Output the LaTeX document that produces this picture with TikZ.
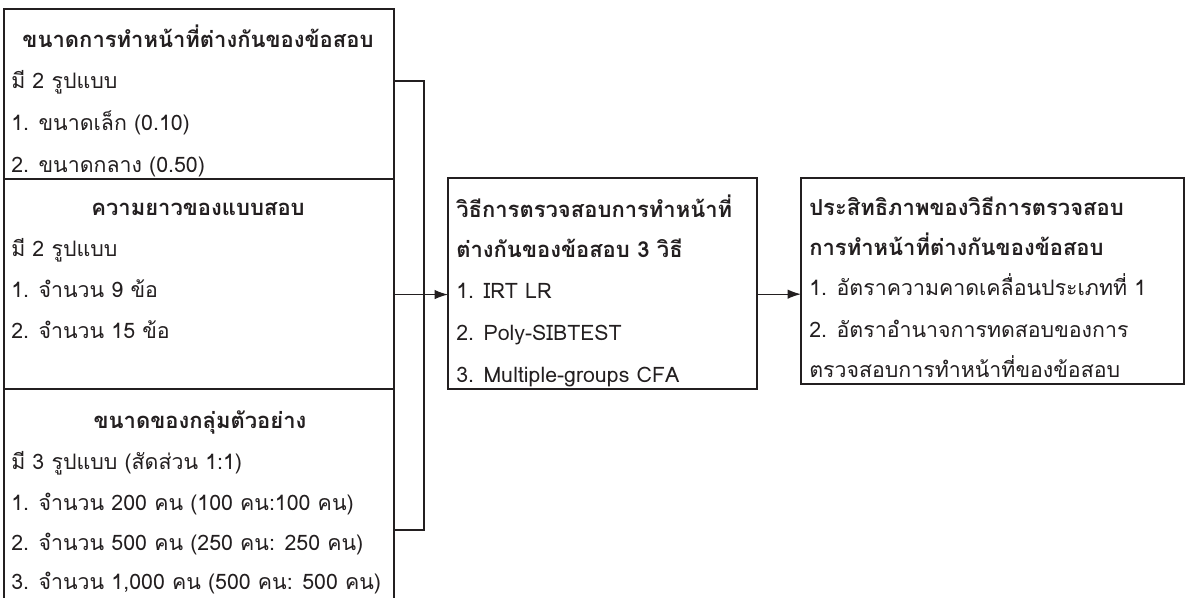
\documentclass[tikz,border=0pt]{standalone}
\usepackage{fontspec}
\setmainfont[Script=Thai]{Loma}
\usetikzlibrary{arrows.meta}
\definecolor{ink}{HTML}{231F20}
\begin{document}
\begin{tikzpicture}[x=0.75pt,y=-0.75pt,
  box/.style={draw=ink, line width=0.85pt, inner sep=0, outer sep=0, anchor=north west},
  txt/.style={anchor=base west, inner sep=0, text=ink, font=\fontsize{16}{19}\selectfont},
  ttl/.style={anchor=base, inner sep=0, text=ink, font=\fontsize{16.5}{19}\selectfont\bfseries},
  ttlw/.style={txt, font=\fontsize{16.5}{19}\selectfont\bfseries},
  link/.style={draw=ink, line width=0.85pt},
  arr/.style={link, -{Latex[length=10pt,width=7pt]}}]
\clip (0,0) rectangle (1186,597);
\fill[white] (0,0) rectangle (1186,597);
% left column
\node[box, minimum width=292.5pt, minimum height=127.5pt] (b1) at (4,9) {};
\node[box, minimum width=292.5pt, minimum height=157.5pt] (b2) at (4,179) {};
\node[box, minimum width=292.5pt, minimum height=160pt] (b3) at (4,389) {};
% middle and right
\node[box, minimum width=231.75pt, minimum height=158.25pt] (mid) at (448,178) {};
\node[box, minimum width=287.25pt, minimum height=154.5pt] (res) at (801,178) {};
% box 1 text
\node[ttl] (t1) at (198,47) {ขนาดการทำหน้าที่ต่างกันของข้อสอบ};
\node[txt] (t1a) at (11,88) {มี 2 รูปแบบ};
\node[txt] (t1b) at (11,130) {1. ขนาดเล็ก (0.10)};
\node[txt] (t1c) at (11,172) {2. ขนาดกลาง (0.50)};
% box 2 text
\node[ttl] (t2) at (198,215) {ความยาวของแบบสอบ};
\node[txt] (t2a) at (11,256) {มี 2 รูปแบบ};
\node[txt] (t2b) at (11,297) {1. จำนวน 9 ข้อ};
\node[txt] (t2c) at (11,338) {2. จำนวน 15 ข้อ};
% box 3 text
\node[ttl] (t3) at (200,428) {ขนาดของกลุ่มตัวอย่าง};
\node[txt] (t3a) at (11,469) {มี 3 รูปแบบ (สัดส่วน 1:1)};
\node[txt] (t3b) at (11,510) {1. จำนวน 200 คน (100 คน:100 คน)};
\node[txt] (t3c) at (11,550) {2. จำนวน 500 คน (250 คน: 250 คน)};
\node[txt] (t3d) at (11,589) {3. จำนวน 1,000 คน (500 คน: 500 คน)};
% middle text
\node[ttlw] (m1) at (456,217) {วิธีการตรวจสอบการทำหน้าที่};
\node[ttlw] (m2) at (456,257) {ต่างกันของข้อสอบ 3 วิธี};
\node[txt] (m3) at (456,298) {1. IRT LR};
\node[txt] (m4) at (456,340) {2. Poly-SIBTEST};
\node[txt] (m5) at (456,382) {3. Multiple-groups CFA};
% right text
\node[ttlw] (r1) at (809,215) {ประสิทธิภาพของวิธีการตรวจสอบ};
\node[ttlw] (r2) at (809,255) {การทำหน้าที่ต่างกันของข้อสอบ};
\node[txt] (r3) at (809,295) {1. อัตราความคาดเคลื่อนประเภทที่ 1};
\node[txt] (r4) at (809,337) {2. อัตราอำนาจการทดสอบของการ};
\node[txt] (r5) at (809,377) {ตรวจสอบการทำหน้าที่ของข้อสอบ};
% connectors
\draw[link] ([yshift=-54pt]b1.north east) -- ++(22.5pt,0) |- ([yshift=-105.75pt]b3.north east);
\draw[arr] (b2.east |- m3.mid) -- (mid.west |- m3.mid);
\draw[arr] ([yshift=-8pt]mid.east) -- ([yshift=-8pt]mid.east -| res.west);
\end{tikzpicture}
\end{document}
